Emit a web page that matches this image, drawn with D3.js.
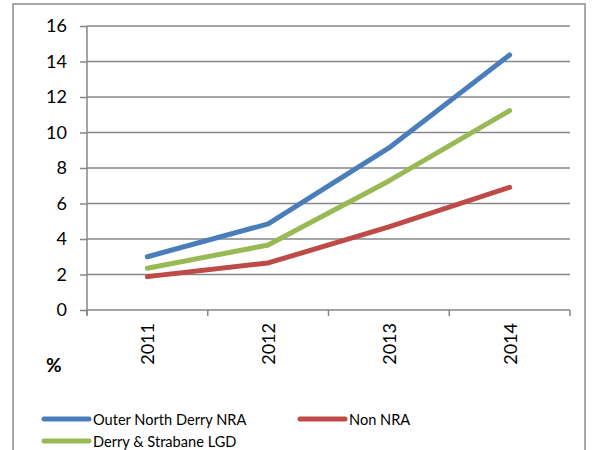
<!DOCTYPE html>
<html><head><meta charset="utf-8">
<script src="https://cdn.jsdelivr.net/npm/d3@7"></script>
<style>body{margin:0;background:#fff}svg{display:block}</style>
</head><body>
<script>
const years = ["2011","2012","2013","2014"];
const outerNorth = [3.0, 4.85, 9.13, 14.37];
const nonNRA = [1.88, 2.65, 4.68, 6.91];
const derryStrabane = [2.35, 3.66, 7.27, 11.23];
const yTicks = [0,2,4,6,8,10,12,14,16];
const seriesNames = ["Outer North Derry NRA","Non NRA","Derry & Strabane LGD"];
const colors = ["#4a7ebb","#be4b48","#98b954"];

(function(){
const W=595,H=450;
const svg=d3.select("body").append("svg").attr("width",W).attr("height",H);
const font="Lato, 'Open Sans', sans-serif";
svg.append("rect").attr("x",13).attr("y",4).attr("width",572).attr("height",460)
  .attr("fill","none").attr("stroke","#8c8c8c").attr("stroke-width",1.5);

const pl=87,pr=570,pt=26,pb=310;
const x=d3.scaleBand().domain(years).range([pl,pr]);
const y=d3.scaleLinear().domain([0,16]).range([pb,pt]);

svg.append("g").selectAll("line").data(yTicks.filter(d=>d>0)).join("line")
  .attr("x1",pl).attr("x2",pr).attr("y1",d=>y(d)).attr("y2",d=>y(d))
  .attr("stroke","#868686").attr("stroke-width",1.5);

const yAxis=svg.append("g").attr("transform",`translate(${pl},0)`)
  .call(d3.axisLeft(y).tickValues(yTicks).tickSize(7).tickPadding(13).tickFormat(d3.format("d")));
yAxis.select(".domain").attr("stroke","#868686").attr("stroke-width",1.5).attr("d",`M0,${pb+5}V${pt}`);
yAxis.selectAll(".tick line").attr("stroke","#868686").attr("stroke-width",1.5);
yAxis.selectAll("text").attr("font-family",font).attr("font-size",18).attr("fill","#000");

const xAxis=svg.append("g").attr("transform",`translate(0,${pb})`)
  .call(d3.axisBottom(x).tickSize(0).tickFormat(""));
xAxis.select(".domain").attr("stroke","#868686").attr("stroke-width",1.5).attr("d",`M${pl},0H${pr}`);
const bounds=[...years.map(d=>x(d)),pr];
svg.append("g").selectAll("line").data(bounds).join("line")
  .attr("x1",d=>d).attr("x2",d=>d).attr("y1",pb).attr("y2",pb+6)
  .attr("stroke","#868686").attr("stroke-width",1.5);
svg.append("g").selectAll("text").data(years).join("text")
  .attr("transform",d=>`translate(${x(d)+x.bandwidth()/2+7},323) rotate(-90)`)
  .attr("text-anchor","end").attr("font-family",font).attr("font-size",18).text(d=>d);

const line=d3.line().x((d,i)=>x(years[i])+x.bandwidth()/2).y(d=>y(d));
const data=[outerNorth,nonNRA,derryStrabane];
[2,1,0].forEach(i=>{
  svg.append("path").attr("d",line(data[i])).attr("fill","none")
   .attr("stroke",colors[i]).attr("stroke-width",5).attr("stroke-linecap","round").attr("stroke-linejoin","round");
});

svg.append("text").attr("x",46).attr("y",372).attr("font-family",font).attr("font-size",19).attr("font-weight","bold").text("%");

const leg=[{x:42,y:419,i:0},{x:298,y:419,i:1},{x:42,y:441,i:2}];
leg.forEach(l=>{
  svg.append("line").attr("x1",l.x+2).attr("x2",l.x+47).attr("y1",l.y).attr("y2",l.y)
    .attr("stroke",colors[l.i]).attr("stroke-width",5).attr("stroke-linecap","round");
  svg.append("text").attr("x",l.x+51).attr("y",l.y+5.5).attr("font-family",font).attr("font-size",14.6).text(seriesNames[l.i]);
});
})();
</script>
</body></html>
